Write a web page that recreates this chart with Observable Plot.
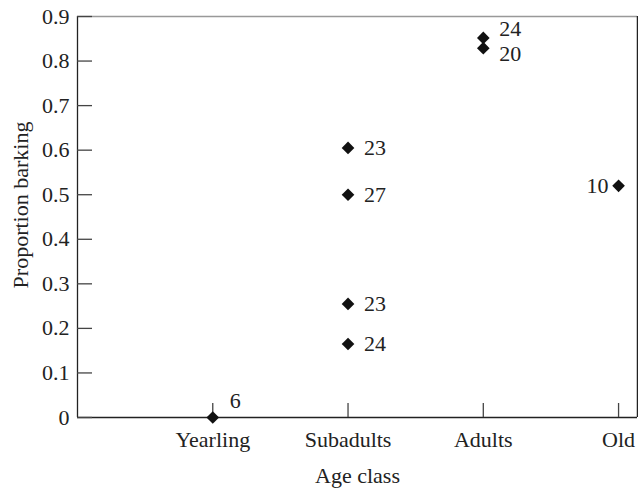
<!DOCTYPE html>
<html>
<head>
<meta charset="utf-8">
<script src="https://cdn.jsdelivr.net/npm/d3@7"></script>
<script src="https://cdn.jsdelivr.net/npm/@observablehq/plot@0.6"></script>
<style>
  html, body { margin: 0; padding: 0; background: #fff; }
</style>
</head>
<body>
<div id="chart"></div>
<script>
// ---- data ----
const ageClasses = ["Yearling", "Subadults", "Adults", "Old"];
const pointClass = ["Yearling", "Subadults", "Subadults", "Subadults", "Subadults", "Adults", "Adults", "Old"];
const proportion = [0, 0.605, 0.5, 0.255, 0.165, 0.852, 0.829, 0.52];
const sampleSize = [6, 23, 27, 23, 24, 24, 20, 10];
const yTicks = [0, 0.1, 0.2, 0.3, 0.4, 0.5, 0.6, 0.7, 0.8, 0.9];
const xAxisTitle = "Age class";
const yAxisTitle = "Proportion barking";

// category position: 1..4 on a linear axis starting at 0
const xMax = 4.14;
const xTicks = ageClasses.map((d, i) => i + 1);
const rows = proportion.map((p, i) => ({
  x: ageClasses.indexOf(pointClass[i]) + 1,
  y: p,
  n: String(sampleSize[i]),
  cls: pointClass[i],
  i
}));

const ink = "#222";
const fontSize = 22;

const isYearling = d => d.cls === "Yearling";
const isOld = d => d.cls === "Old";
const adults = rows.filter(d => d.cls === "Adults");
const adultsTop = d => d.cls === "Adults" && d.y === d3.max(adults, a => a.y);
const adultsBottom = d => d.cls === "Adults" && d.y !== d3.max(adults, a => a.y);
const plain = d => d.cls === "Subadults";

const chart = Plot.plot({
  width: 638,
  height: 488,
  marginLeft: 77,
  marginRight: 1,
  marginTop: 16,
  marginBottom: 71,
  style: { fontFamily: "'Liberation Serif', 'DejaVu Serif', serif", fontSize: fontSize + "px", color: ink, background: "#fff" },
  x: { domain: [0, xMax], label: null },
  y: { domain: [0, 0.9], label: null },
  marks: [
    // frame
    Plot.ruleY([0.9], { stroke: "#999", strokeWidth: 1.5 }),
    Plot.ruleX([xMax], { stroke: ink, strokeWidth: 1.5 }),
    Plot.ruleX([0], { stroke: ink, strokeWidth: 1.3 }),
    Plot.ruleY([0], { stroke: ink, strokeWidth: 1.5 }),
    // inward ticks
    Plot.axisY(yTicks, { tickSize: -15, text: null, stroke: "#444", strokeWidth: 1.3 }),
    Plot.axisX(xTicks, { tickSize: -14, text: null, stroke: "#444", strokeWidth: 1.3 }),
    // tick labels
    Plot.axisY(yTicks, { tickSize: 0, tickPadding: 8, tickFormat: d => String(d), fill: ink, label: null }),
    Plot.axisX(xTicks, { tickSize: 0, tickPadding: 14, tickFormat: d => ageClasses[d - 1], fill: ink, label: null }),
    // axis titles
    Plot.text([xAxisTitle], { frameAnchor: "bottom", textAnchor: "middle", lineAnchor: "middle", dy: 58, fill: ink }),
    Plot.text([yAxisTitle], { frameAnchor: "left", textAnchor: "middle", lineAnchor: "middle", rotate: -90, dx: -57, dy: -12, fill: ink }),
    // points
    Plot.dot(rows, { x: "x", y: "y", symbol: "diamond2", r: 5.7, fill: "#111", stroke: "none" }),
    // sample size labels
    Plot.text(rows.filter(plain), { x: "x", y: "y", text: "n", textAnchor: "start", dx: 16, fill: ink }),
    Plot.text(rows.filter(isYearling), { x: "x", y: "y", text: "n", textAnchor: "start", dx: 17, dy: -17, fill: ink }),
    Plot.text(rows.filter(adultsTop), { x: "x", y: "y", text: "n", textAnchor: "start", dx: 16, dy: -9, fill: ink }),
    Plot.text(rows.filter(adultsBottom), { x: "x", y: "y", text: "n", textAnchor: "start", dx: 16, dy: 6, fill: ink }),
    Plot.text(rows.filter(isOld), { x: "x", y: "y", text: "n", textAnchor: "end", dx: -10, fill: ink })
  ]
});
document.getElementById("chart").appendChild(chart);
</script>
</body>
</html>
